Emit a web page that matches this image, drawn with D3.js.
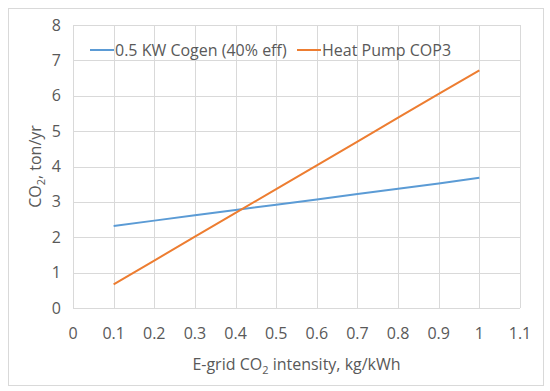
<!DOCTYPE html>
<html lang="en">
  <head>
    <meta charset="UTF-8" />
    <title>CO2 cogen vs heat pump</title>
    <script src="https://d3js.org/d3.v7.min.js"></script>
    <style>
      body {
        margin: 0;
        background: #ffffff;
      }
      svg text {
        font-family: "Open Sans", sans-serif;
        fill: #595959;
      }
    </style>
  </head>
  <body>
    <svg id="chart" width="550" height="391"></svg>

    <script>
      const gridIntensity = [0.1, 0.2, 0.3, 0.4, 0.5, 0.6, 0.7, 0.8, 0.9, 1.0];
      const cogen = [2.32, 2.47, 2.62, 2.77, 2.92, 3.07, 3.22, 3.37, 3.52, 3.68];
      const heatPump = [0.67, 1.34, 2.02, 2.69, 3.36, 4.03, 4.7, 5.38, 6.05, 6.72];
      const xTicks = [0, 0.1, 0.2, 0.3, 0.4, 0.5, 0.6, 0.7, 0.8, 0.9, 1, 1.1];
      const yTicks = [0, 1, 2, 3, 4, 5, 6, 7, 8];
      const seriesNames = ["0.5 KW Cogen (40% eff)", "Heat Pump COP3"];
      const seriesColors = ["#5b9bd5", "#ed7d31"];

      const svg = d3.select("#chart");
      const margin = {left: 73, right: 30, top: 25, bottom: 83};
      const w = 550, h = 391;
      const fs = 16;

      // outer chart border
      svg.append("rect")
        .attr("x", 8.5).attr("y", 8.5)
        .attr("width", 535).attr("height", 377)
        .attr("fill", "#fff").attr("stroke", "#d9d9d9");

      const x = d3.scaleLinear().domain([0, 1.1]).range([margin.left, w - margin.right]);
      const y = d3.scaleLinear().domain([0, 8]).range([h - margin.bottom, margin.top]);

      // gridlines
      svg.append("g").selectAll("line").data(xTicks).join("line")
        .attr("x1", d => Math.round(x(d)) + 0.5).attr("x2", d => Math.round(x(d)) + 0.5)
        .attr("y1", y(0)).attr("y2", y(8))
        .attr("stroke", "#d9d9d9");
      svg.append("g").selectAll("line").data(yTicks).join("line")
        .attr("x1", x(0)).attr("x2", x(1.1))
        .attr("y1", d => Math.round(y(d)) + 0.5).attr("y2", d => Math.round(y(d)) + 0.5)
        .attr("stroke", "#d9d9d9");

      // tick labels
      svg.append("g").selectAll("text").data(yTicks).join("text")
        .attr("x", x(0) - 12).attr("y", d => y(d))
        .attr("dy", "0.35em").attr("text-anchor", "end")
        .attr("font-size", fs).text(d => d);
      svg.append("g").selectAll("text").data(xTicks).join("text")
        .attr("x", d => x(d)).attr("y", y(0) + 25)
        .attr("dy", "0.35em").attr("text-anchor", "middle")
        .attr("font-size", fs).text(d => d);

      // axis titles
      const xt = svg.append("text")
        .attr("x", (x(0) + x(1.1)) / 2).attr("y", 364)
        .attr("dy", "0.35em").attr("text-anchor", "middle").attr("font-size", fs);
      xt.append("tspan").text("E-grid CO");
      xt.append("tspan").attr("font-size", 11).attr("dy", 4).text("2");
      xt.append("tspan").attr("dy", -4).text(" intensity, kg/kWh");

      const yt = svg.append("text")
        .attr("transform", `translate(35,${(y(0) + y(8)) / 2}) rotate(-90)`)
        .attr("dy", "0.35em").attr("text-anchor", "middle").attr("font-size", fs);
      yt.append("tspan").text("CO");
      yt.append("tspan").attr("font-size", 11).attr("dy", 4).text("2");
      yt.append("tspan").attr("dy", -4).text(", ton/yr");

      // lines
      const line = d3.line().x((d, i) => x(gridIntensity[i])).y(d => y(d));
      [cogen, heatPump].forEach((s, i) => {
        svg.append("path").datum(s)
          .attr("d", line)
          .attr("fill", "none")
          .attr("stroke", seriesColors[i])
          .attr("stroke-width", 2);
      });

      // legend
      const legendX = [90, 297];
      seriesNames.forEach((name, i) => {
        const g = svg.append("g").attr("transform", `translate(${legendX[i]},50)`);
        g.append("line").attr("x1", 0).attr("x2", 24)
          .attr("stroke", seriesColors[i]).attr("stroke-width", 2);
        g.append("text").attr("x", 25).attr("dy", "0.35em")
          .attr("font-size", fs).text(name);
      });
    </script>
  </body>
</html>
